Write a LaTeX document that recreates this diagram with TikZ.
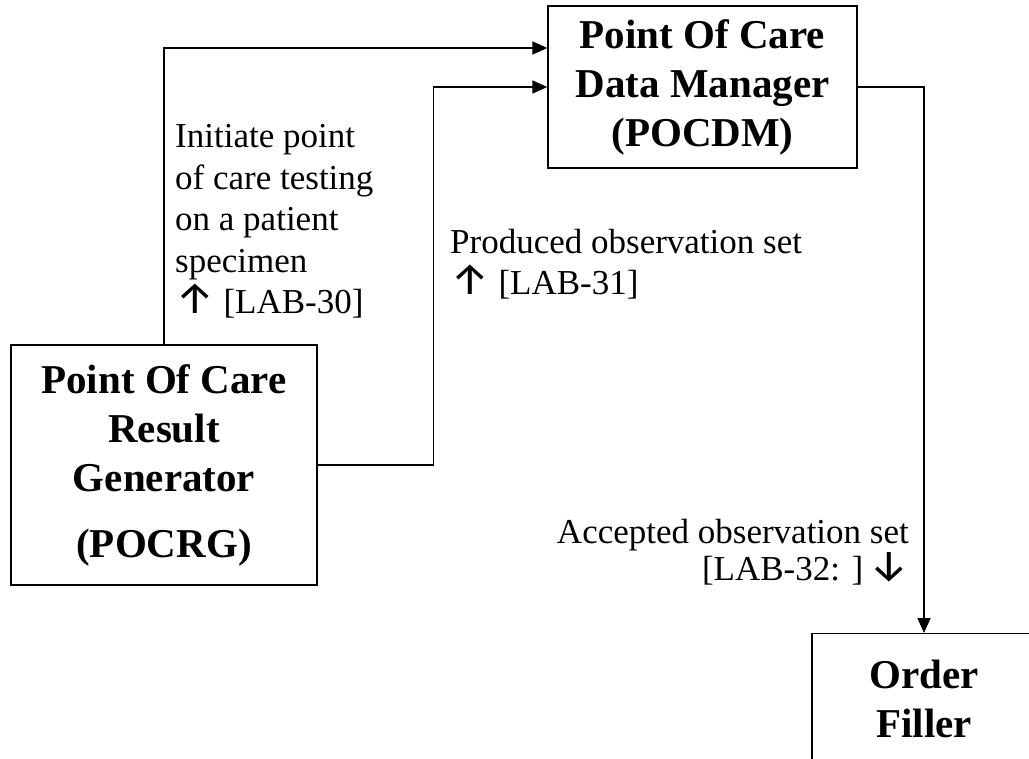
\documentclass[tikz,border=0pt]{standalone}
\usepackage{fontspec}
\setmainfont{Liberation Serif}
\newfontfamily\arrowfont{Fira Sans}
\newcommand{\upto}{{\arrowfont\fontsize{44}{41.5}\selectfont ↑}}
\newcommand{\downto}{{\arrowfont\fontsize{44}{37}\selectfont ↓}}
\usetikzlibrary{arrows.meta}
\begin{document}
\begin{tikzpicture}[x=1pt,y=-1pt,
  box/.style={draw,line width=1.3pt,align=center,inner sep=0pt,
    font=\fontsize{41}{49}\selectfont\bfseries},
  lbl/.style={inner sep=0pt,font=\fontsize{35}{41.5}\selectfont},
  flow/.style={line width=1.6pt,-{Triangle[length=15pt,width=13pt]}}]
\useasboundingbox (0,0) rectangle (1029,759);
\clip (0,0) rectangle (1029,759);
\node[box,minimum width=309pt,minimum height=162pt] (pocdm) at (702.5,87) {Point Of Care\\Data Manager\\(POCDM)};
\node[box,minimum width=306pt,minimum height=240pt] (pocrg) at (164,465) {Point Of Care\\Result\\Generator\\[17pt](POCRG)};
\node[box,minimum width=224pt,minimum height=130pt,anchor=north] (filler) at (924,633) {Order\\Filler};
\draw[flow] (pocrg.north) |- ([yshift=39pt]pocdm.west);
\draw[flow] (pocrg.east) -- ++(116,0) |- (pocdm.west);
\draw[flow] (pocdm.east) -| (filler.north);
% labels, anchored on the baseline of the last line
\node[lbl,align=left,anchor=base west] (initiate) at (175,314) {Initiate point\\of care testing\\on a patient\\specimen\\\upto{} [LAB-30]};
\node[lbl,align=left,anchor=base west] (produced) at (450,295) {Produced observation set\\\upto{} [LAB-31]};
\node[lbl,align=right,anchor=base east,font=\fontsize{35}{37}\selectfont] (accepted) at (909,580) {Accepted observation set\\{[}LAB-32: ]\,\downto};
\end{tikzpicture}
\end{document}
